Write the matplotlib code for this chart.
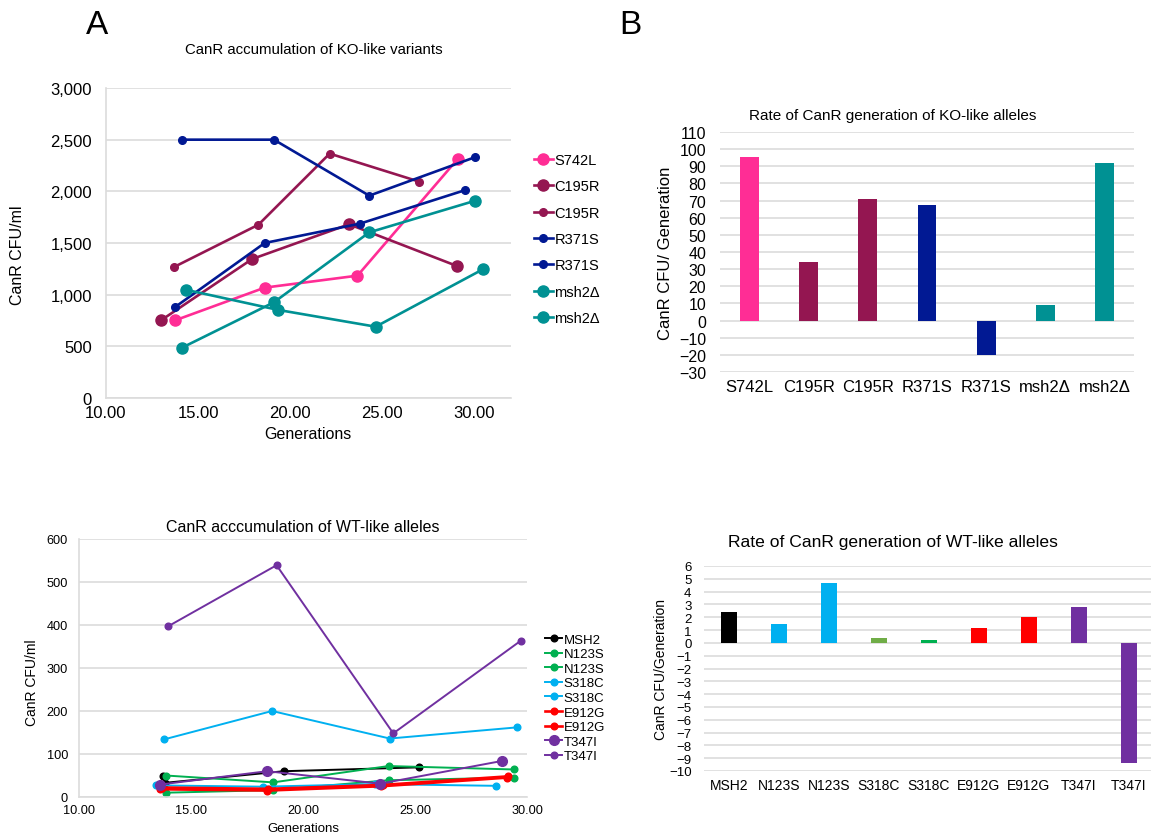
import matplotlib
matplotlib.use("Agg")
from matplotlib import pyplot as plt
from matplotlib.ticker import FuncFormatter

plt.rcParams["font.family"] = ["Liberation Sans", "DejaVu Sans"]

W, H = 1151, 837

# --- KO-like accumulation (top left) ---
ko_labels = ["S742L", "C195R", "C195R", "R371S", "R371S", "msh2\u0394", "msh2\u0394"]
ko_colors = ["#FF2D95", "#941651", "#941651", "#011993", "#011993", "#009193", "#009193"]
ko_big = [True, True, False, False, False, True, True]
ko_x = [
    [13.76, 18.62, 23.66, 29.12],
    [12.99, 17.94, 23.20, 29.07],
    [13.70, 18.28, 22.15, 27.01],
    [14.13, 19.12, 24.30, 30.07],
    [13.76, 18.62, 23.79, 29.48],
    [14.32, 19.36, 24.65, 30.50],
    [14.13, 19.12, 24.30, 30.07],
]
ko_y = [
    [752, 1068, 1184, 2316],
    [752, 1345, 1681, 1277],
    [1268, 1677, 2365, 2094],
    [2500, 2500, 1958, 2332],
    [881, 1500, 1687, 2010],
    [1048, 852, 690, 1248],
    [487, 926, 1603, 1910],
]

# --- WT-like accumulation (bottom left) ---
wt_labels = ["MSH2", "N123S", "N123S", "S318C", "S318C", "E912G", "E912G", "T347I", "T347I"]
wt_colors = ["#000000", "#00B050", "#00B050", "#00B0F0", "#00B0F0",
             "#FF0000", "#FF0000", "#7030A0", "#7030A0"]
wt_big = [False, False, False, False, False, False, False, True, False]
wt_x = [
    [13.75, 13.85, 19.15, 25.20],
    [13.87, 18.67, 23.82, 29.42],
    [13.87, 18.67, 23.82, 29.42],
    [13.80, 18.62, 23.87, 29.57],
    [13.45, 18.20, 23.20, 28.60],
    [13.63, 18.40, 23.50, 29.10],
    [13.70, 18.45, 23.55, 29.15],
    [13.63, 18.40, 23.45, 28.90],
    [13.98, 18.82, 24.03, 29.71],
]
wt_y = [
    [50, 33, 60, 69],
    [50, 34, 72, 64],
    [10, 16, 39, 45],
    [134, 200, 136, 162],
    [27, 24, 30, 26],
    [18, 15, 25, 45],
    [22, 19, 28, 48],
    [29, 60, 31, 84],
    [397, 539, 148, 363],
]

# --- rates (right) ---
ko_rate_labels = ["S742L", "C195R", "C195R", "R371S", "R371S", "msh2\u0394", "msh2\u0394"]
ko_rates = [95.5, 34, 71, 67.5, -20, 9, 92]
ko_rate_colors = ["#FF2D95", "#941651", "#941651", "#011993", "#011993", "#009193", "#009193"]

wt_rate_labels = ["MSH2", "N123S", "N123S", "S318C", "S318C", "E912G", "E912G", "T347I", "T347I"]
wt_rates = [2.4, 1.5, 4.7, 0.4, 0.2, 1.15, 2.0, 2.8, -9.35]
wt_rate_colors = ["#000000", "#00B0F0", "#00B0F0", "#70AD47", "#00B050",
                  "#FF0000", "#FF0000", "#7030A0", "#7030A0"]

GRID = "#dcdcdc"

fig = plt.figure(figsize=(W / 100, H / 100), dpi=100)


def px_axes(l, t, r, b):
    return fig.add_axes([l / W, 1 - b / H, (r - l) / W, (b - t) / H])


def ftext(x, y, s, **kw):
    kw.setdefault("ha", "center")
    kw.setdefault("va", "center")
    fig.text(x / W, 1 - y / H, s, **kw)


def style_line_axes(ax, ypad, xpad, fs):
    for s in ("top", "right"):
        ax.spines[s].set_visible(False)
    for s in ("left", "bottom"):
        ax.spines[s].set_color(GRID)
        ax.spines[s].set_linewidth(1.2)
    ax.grid(axis="y", color=GRID, linewidth=1.2)
    ax.set_axisbelow(True)
    ax.tick_params(length=0, labelsize=fs)
    ax.tick_params(axis="y", pad=ypad)
    ax.tick_params(axis="x", pad=xpad)
    ax.xaxis.set_major_formatter(FuncFormatter(lambda v, p: f"{v:.2f}"))


# top left
ax1 = px_axes(106, 89, 511, 399)
for xs, ys, lab, c, big in zip(ko_x, ko_y, ko_labels, ko_colors, ko_big):
    ax1.plot(xs, ys, color=c, lw=1.9, marker="o", ms=8 if big else 5.5, label=lab)
ax1.set_xlim(10, 32)
ax1.set_ylim(0, 3000)
ax1.set_xticks([10, 15, 20, 25, 30])
ax1.set_yticks(range(0, 3001, 500))
ax1.yaxis.set_major_formatter(FuncFormatter(lambda v, p: f"{int(v):,}"))
style_line_axes(ax1, 10, 5, 12)
ax1.legend(loc="upper left", bbox_to_anchor=(528 / W, 1 - 148 / H), bbox_transform=fig.transFigure,
           frameon=False, fontsize=10.5, handlelength=1.3, handletextpad=0.1,
           labelspacing=0.85, borderaxespad=0)
ftext(314, 50, "CanR accumulation of KO-like variants", fontsize=10.8)
ftext(18, 255, "CanR CFU/ml", rotation=90, fontsize=11.5)
ftext(308, 435, "Generations", fontsize=11.5)
ftext(97, 25, "A", fontsize=24)

# bottom left
ax2 = px_axes(79, 540, 527, 798)
for xs, ys, lab, c, big in zip(wt_x, wt_y, wt_labels, wt_colors, wt_big):
    lw = 1.9 if c == "#FF0000" else 1.4
    ax2.plot(xs, ys, color=c, lw=lw, marker="o", ms=7 if big else 4.8, label=lab)
ax2.set_xlim(10, 30)
ax2.set_ylim(0, 600)
ax2.set_xticks([10, 15, 20, 25, 30])
ax2.set_yticks(range(0, 601, 100))
style_line_axes(ax2, 8, 5, 9.2)
ax2.legend(loc="upper left", bbox_to_anchor=(540 / W, 1 - 629 / H), bbox_transform=fig.transFigure,
           frameon=False, fontsize=9.5, handlelength=1.3, handletextpad=0.1,
           labelspacing=0.18, borderaxespad=0)
ftext(303, 527, "CanR acccumulation of WT-like alleles", fontsize=11.5)
ftext(32, 683, "CanR CFU/ml", rotation=90, fontsize=10)
ftext(303, 829, "Generations", fontsize=9.5)


def style_bar_axes(ax, ypad, xpad, yfs, xfs):
    for s in ax.spines.values():
        s.set_visible(False)
    ax.grid(axis="y", color=GRID, linewidth=1.2)
    ax.set_axisbelow(True)
    ax.tick_params(length=0)
    ax.tick_params(axis="y", pad=ypad, labelsize=yfs)
    ax.tick_params(axis="x", pad=xpad, labelsize=xfs)


# top right
ax3 = px_axes(720, 133, 1134, 373)
ax3.bar(range(len(ko_rates)), ko_rates, width=0.32, color=ko_rate_colors)
ax3.set_xlim(-0.5, len(ko_rates) - 0.5)
ax3.set_ylim(-30, 110)
ax3.set_yticks(range(-30, 111, 10))
ax3.set_xticks(range(len(ko_rates)))
ax3.set_xticklabels(ko_rate_labels)
style_bar_axes(ax3, 10, 5, 11.5, 12)
ftext(893, 116, "Rate of CanR generation of KO-like alleles", fontsize=11)
ftext(665, 253, "CanR CFU/ Generation", rotation=90, fontsize=12)
ftext(630, 25, "B", fontsize=24)

# bottom right
ax4 = px_axes(704, 567, 1151, 772)
ax4.bar(range(len(wt_rates)), wt_rates, width=0.32, color=wt_rate_colors)
ax4.set_xlim(-0.5, len(wt_rates) - 0.56)
ax4.set_ylim(-10, 6)
ax4.set_yticks(range(-10, 7, 1))
ax4.set_xticks(range(len(wt_rates)))
ax4.set_xticklabels(wt_rate_labels)
style_bar_axes(ax4, 9, 5, 9.5, 10)
ftext(893, 543, "Rate of CanR generation of WT-like alleles", fontsize=12.6)
ftext(661, 670, "CanR CFU/Generation", rotation=90, fontsize=10)

fig.savefig("out.png", dpi=100)
